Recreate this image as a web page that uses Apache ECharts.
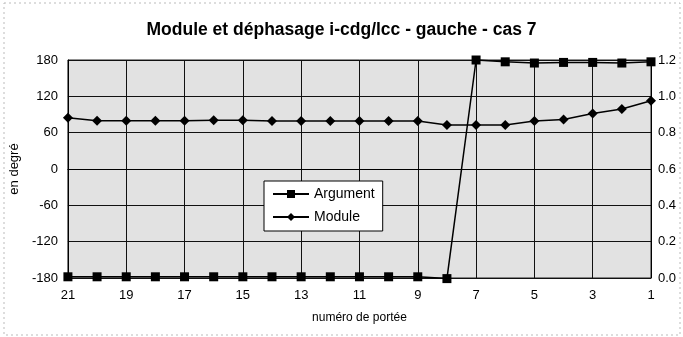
<!DOCTYPE html>
<html>
<head>
<meta charset="utf-8">
<script src="https://cdn.jsdelivr.net/npm/echarts@6/dist/echarts.min.js"></script>
<style>
  html, body { margin: 0; padding: 0; background: #fff; }
  #chart { width: 683px; height: 337px; }
</style>
</head>
<body>
<div id="chart"></div>
<script>
// Span numbers, read right to left (21 down to 1)
const spans = ['21','20','19','18','17','16','15','14','13','12','11','10','9','8','7','6','5','4','3','2','1'];
// Phase angle (degrees, left axis)
const argumentDeg = [-178,-178,-178,-178,-178,-178,-178,-178,-178,-178,-178,-178,-178,-181,180,177,175,176,176,175,177];
// Magnitude ratio (right axis)
const moduleRatio = [0.882,0.866,0.866,0.866,0.866,0.868,0.868,0.864,0.864,0.864,0.864,0.864,0.864,0.842,0.842,0.842,0.864,0.873,0.906,0.930,0.976];

const chart = echarts.init(document.getElementById('chart'));
const font = 'Arial, "Liberation Sans", sans-serif';

chart.setOption({
  animation: false,
  backgroundColor: '#fff',
  title: {
    text: 'Module et déphasage i-cdg/lcc - gauche - cas 7',
    left: 'center',
    top: 16,
    textStyle: { fontFamily: font, fontSize: 17.5, fontWeight: 'bold', color: '#000' }
  },
  graphic: [{
    type: 'rect',
    shape: { x: 4, y: 3, width: 676, height: 332 },
    style: { fill: 'none', stroke: '#bbb', lineWidth: 1, lineDash: [2, 3] },
    silent: true
  }],
  legend: {
    orient: 'vertical',
    left: 264,
    top: 181,
    padding: [6, 8, 7, 8],
    itemGap: 9,
    itemWidth: 36,
    itemHeight: 10,
    backgroundColor: '#fff',
    borderColor: '#000',
    borderWidth: 1,
    textStyle: { fontFamily: font, fontSize: 14, color: '#000' },
    data: ['Argument', 'Module']
  },
  grid: {
    left: 62, right: 32, top: 60, bottom: 59,
    show: true,
    backgroundColor: '#e2e2e2',
    borderColor: '#222',
    borderWidth: 1
  },
  xAxis: {
    type: 'category',
    data: spans,
    boundaryGap: false,
    name: 'numéro de portée',
    nameLocation: 'middle',
    nameGap: 34,
    nameTextStyle: { fontFamily: font, fontSize: 12, color: '#000' },
    axisLine: { lineStyle: { color: '#000', width: 1 } },
    axisTick: { show: false },
    axisLabel: { interval: 1, fontFamily: font, fontSize: 13, color: '#000', margin: 11 },
    splitLine: { show: true, interval: 1, lineStyle: { color: '#111', width: 1 } }
  },
  yAxis: [
    {
      type: 'value',
      min: -180, max: 180, interval: 60,
      name: 'en degré',
      nameLocation: 'middle',
      nameGap: 37,
      nameTextStyle: { fontFamily: font, fontSize: 13, color: '#000' },
      axisLine: { show: true, lineStyle: { color: '#000' } },
      axisTick: { show: false },
      axisLabel: { fontFamily: font, fontSize: 13, color: '#000', margin: 10 },
      splitLine: { show: true, lineStyle: { color: '#111', width: 1 } }
    },
    {
      type: 'value',
      min: 0, max: 1.2, interval: 0.2,
      axisLine: { show: true, lineStyle: { color: '#000' } },
      axisTick: { show: false },
      axisLabel: { fontFamily: font, fontSize: 13, color: '#000', margin: 7,
        formatter: v => v.toFixed(1) },
      splitLine: { show: false }
    }
  ],
  series: [
    {
      name: 'Argument',
      type: 'line',
      yAxisIndex: 0,
      data: argumentDeg,
      clip: false,
      symbol: 'rect',
      symbolSize: 9,
      itemStyle: { color: '#000' },
      lineStyle: { color: '#000', width: 1.5 }
    },
    {
      name: 'Module',
      type: 'line',
      yAxisIndex: 1,
      data: moduleRatio,
      clip: false,
      symbol: 'diamond',
      symbolSize: 10,
      itemStyle: { color: '#000' },
      lineStyle: { color: '#000', width: 1.5 }
    }
  ]
});
</script>
</body>
</html>
